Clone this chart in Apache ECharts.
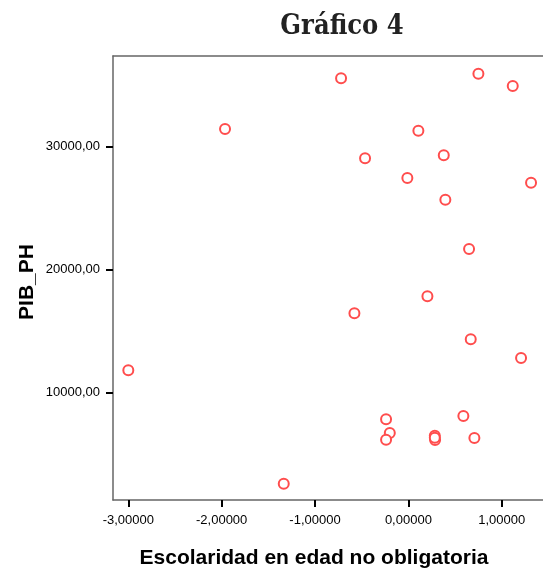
<!DOCTYPE html>
<html>
<head>
<meta charset="utf-8">
<script src="https://cdn.jsdelivr.net/npm/echarts@6/dist/echarts.min.js"></script>
<style>
    html, body { margin: 0; padding: 0; background: #fff; }
    #chart { width: 543px; height: 570px; }
</style>
</head>
<body>
<div id="chart"></div>
<script>
    // valores
    var escolaridad = [-1.964, -0.721, 0.750, 1.118, 0.107, -0.464, 0.379, -0.011, 1.314, 0.396, 0.650,
        -3.000, -0.578, 0.204, 0.668, 1.207, -0.239, -0.199, -0.239, 0.283, 0.286, 0.283, 0.589, 0.707, -1.335];
    var pibPh = [31439, 35561, 35935, 34935, 31301, 29057, 29301, 27455, 27073, 25691, 21683,
        11821, 16455, 17837, 14341, 12821, 7837, 6724, 6179, 6504, 6154, 6330, 8106, 6317, 2602];
    var xTicks = [-3, -2, -1, 0, 1];
    var yTicks = [10000, 20000, 30000];

    var puntos = [];
    for (var i = 0; i < escolaridad.length; i++) {
        puntos.push([escolaridad[i], pibPh[i]]);
    }

    var frameLine = {show: true, onZero: false, lineStyle: {color: '#666', width: 1.5}};

    var myChart = echarts.init(document.getElementById('chart'));
    var option = {
        backgroundColor: '#fff',
        animation: false,
        grid: {
            left: 113,
            top: 56,
            bottom: 70,
            right: 0
        },
        xAxis: [{
            type: 'value',
            position: 'bottom',
            min: -3.164,
            max: 1.442,
            splitLine: {show: false},
            axisLine: frameLine,
            axisTick: {
                show: true,
                customValues: xTicks,
                length: 7,
                lineStyle: {color: '#000', width: 2}
            },
            axisLabel: {
                customValues: xTicks,
                margin: 14,
                color: '#000',
                fontFamily: 'Liberation Sans',
                fontSize: 13,
                formatter: function (v) {
                    return v.toFixed(5).replace('.', ',');
                }
            }
        }, {
            // línea superior del marco
            type: 'value',
            position: 'top',
            min: -3.164,
            max: 1.442,
            splitLine: {show: false},
            axisLine: frameLine,
            axisTick: {show: false},
            axisLabel: {show: false}
        }],
        yAxis: {
            type: 'value',
            min: 1276,
            max: 37374,
            splitLine: {show: false},
            axisLine: frameLine,
            axisTick: {
                show: true,
                customValues: yTicks,
                length: 7,
                lineStyle: {color: '#000', width: 2}
            },
            axisLabel: {
                customValues: yTicks,
                margin: 13,
                color: '#000',
                fontFamily: 'Liberation Sans',
                fontSize: 13,
                formatter: function (v) {
                    return v.toFixed(2).replace('.', ',');
                }
            }
        },
        graphic: [
            {
                type: 'text',
                x: 342,
                y: 27,
                style: {
                    text: 'Gráfico 4',
                    textAlign: 'center',
                    textVerticalAlign: 'middle',
                    font: 'bold 27px "DejaVu Serif Condensed", "DejaVu Serif", serif',
                    fill: '#222'
                }
            },
            {
                type: 'text',
                x: 27,
                y: 282,
                rotation: Math.PI / 2,
                style: {
                    text: 'PIB_PH',
                    textAlign: 'center',
                    textVerticalAlign: 'middle',
                    font: 'bold 21px "Liberation Sans", Arial, sans-serif',
                    fill: '#000'
                }
            },
            {
                type: 'text',
                x: 314,
                y: 558,
                style: {
                    text: 'Escolaridad en edad no obligatoria',
                    textAlign: 'center',
                    textVerticalAlign: 'middle',
                    font: 'bold 21px "Liberation Sans", Arial, sans-serif',
                    fill: '#000'
                }
            }
        ],
        series: [{
            type: 'scatter',
            data: puntos,
            symbol: 'emptyCircle',
            symbolSize: 10,
            itemStyle: {
                color: '#ff4d4d',
                borderColor: '#ff4d4d',
                borderWidth: 1.4,
                opacity: 1
            }
        }]
    };
    myChart.setOption(option);
</script>
</body>
</html>
